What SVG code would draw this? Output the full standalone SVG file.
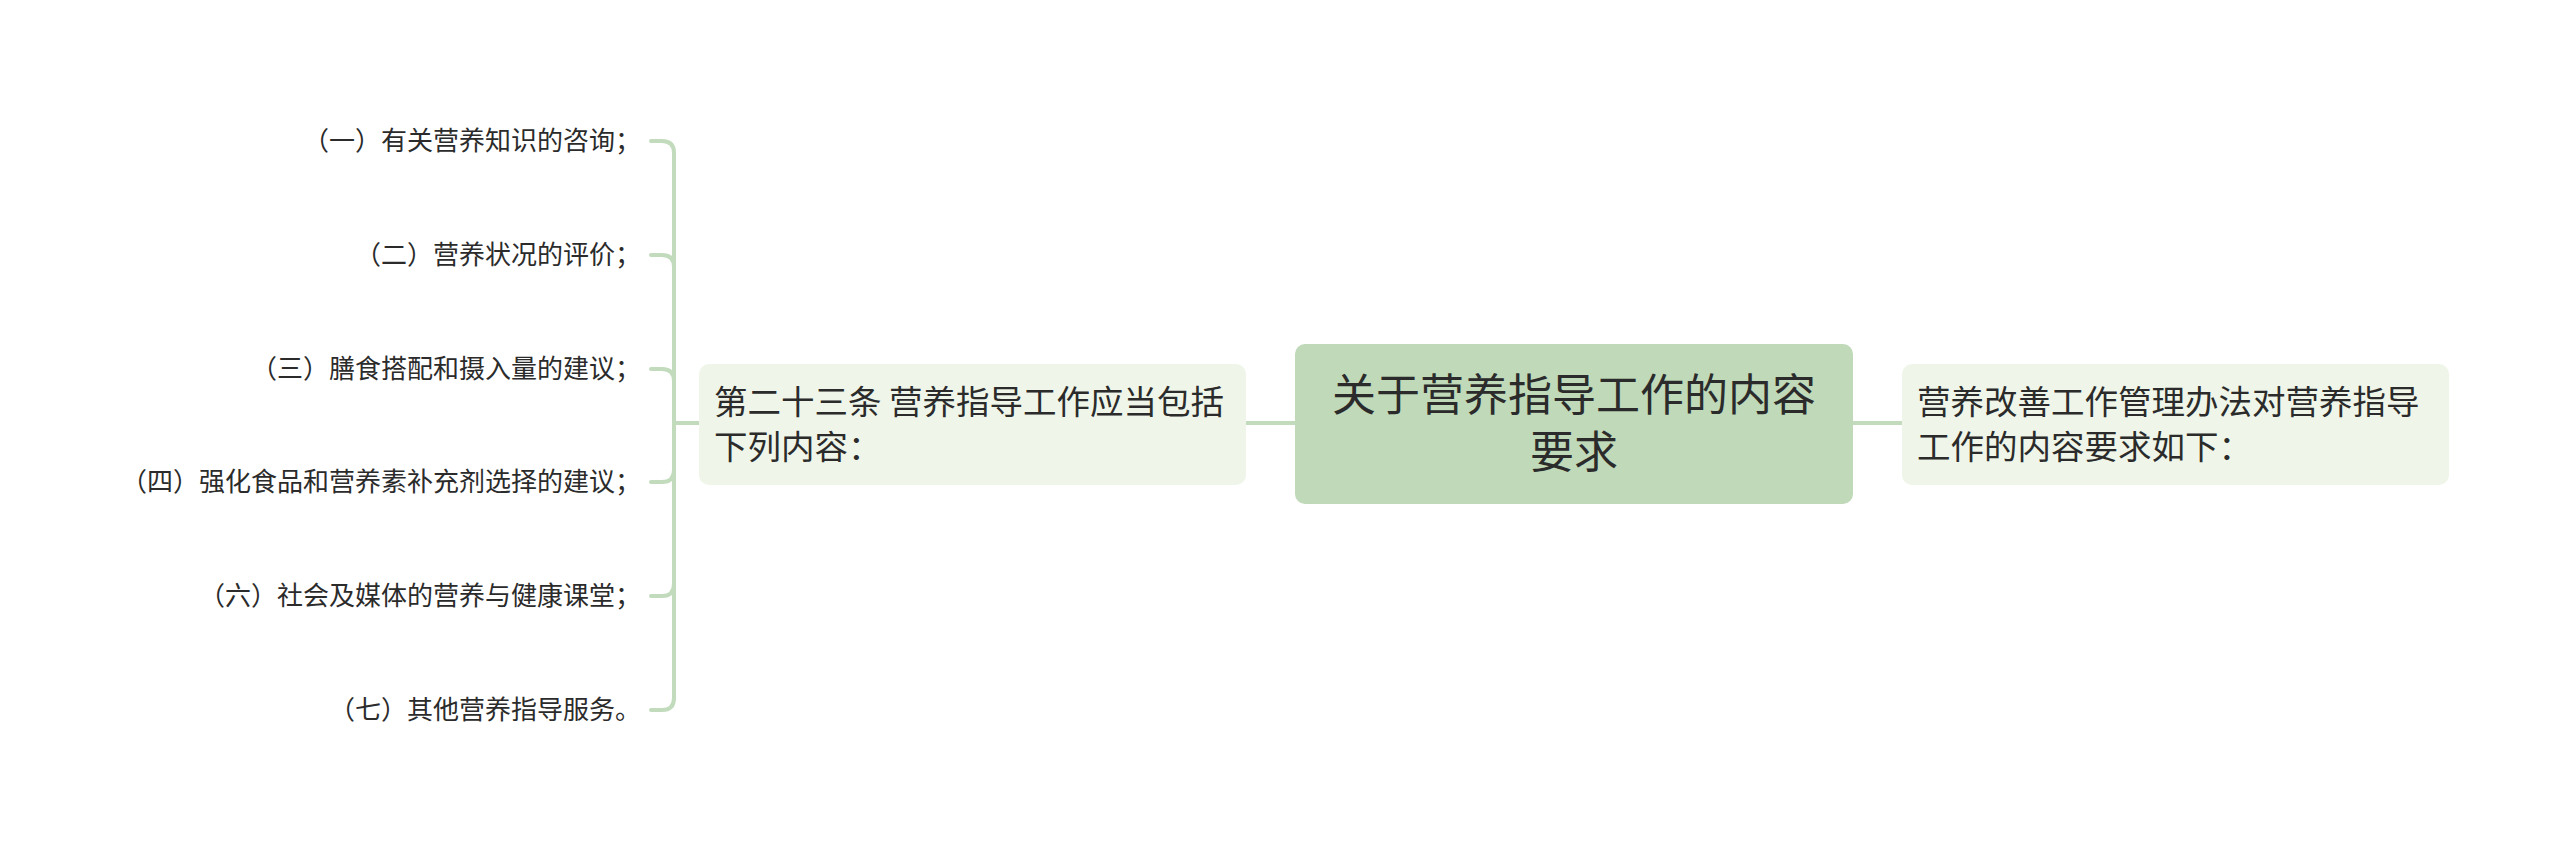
<svg xmlns="http://www.w3.org/2000/svg" width="2560" height="849" viewBox="0 0 2560 849">
<style>
.t{font-family:"Noto Sans CJK SC","Noto Sans",sans-serif;fill:#2b2b2b}
.c{fill:none;stroke:#c2dbbd;stroke-width:4;stroke-linecap:round}
.sub{fill:#eff6e9}
.leaf{font-size:26px;text-anchor:end}
.mid{font-size:33.5px}
</style>
<rect width="2560" height="849" fill="#ffffff"/>
<g id="connectors">
<path class="c" d="M1246 423 L1295 423"/>
<path class="c" d="M1853 423 L1902 423"/>
<path class="c" d="M699 423 L674 423"/>
<path class="c" d="M674 423 L674 153 Q674 141 662 141 L651 141"/>
<path class="c" d="M674 423 L674 267 Q674 255 662 255 L651 255"/>
<path class="c" d="M674 423 L674 381 Q674 369 662 369 L651 369"/>
<path class="c" d="M674 423 L674 470 Q674 482 662 482 L651 482"/>
<path class="c" d="M674 423 L674 584 Q674 596 662 596 L651 596"/>
<path class="c" d="M674 423 L674 698 Q674 710 662 710 L651 710"/>
</g>
<g id="central">
<rect x="1295" y="344" width="558" height="160" rx="10" fill="#bfd9b9"/>
<text class="t" x="1574" y="411" font-size="44" text-anchor="middle">关于营养指导工作的内容</text>
<text class="t" x="1574" y="468" font-size="44" text-anchor="middle">要求</text>
</g>
<g id="left">
<rect class="sub" x="699" y="364" width="547" height="121" rx="10"/>
<text class="t mid" x="714" y="414">第二十三条 营养指导工作应当包括</text>
<text class="t mid" x="714" y="459">下列内容：</text>
</g>
<g id="right">
<rect class="sub" x="1902" y="364" width="547" height="121" rx="10"/>
<text class="t mid" x="1917" y="414">营养改善工作管理办法对营养指导</text>
<text class="t mid" x="1917" y="459">工作的内容要求如下：</text>
</g>
<g id="leaf1"><text class="t leaf" x="641" y="150">（一）有关营养知识的咨询；</text></g>
<g id="leaf2"><text class="t leaf" x="641" y="264">（二）营养状况的评价；</text></g>
<g id="leaf3"><text class="t leaf" x="641" y="378">（三）膳食搭配和摄入量的建议；</text></g>
<g id="leaf4"><text class="t leaf" x="641" y="491">（四）强化食品和营养素补充剂选择的建议；</text></g>
<g id="leaf5"><text class="t leaf" x="641" y="605">（六）社会及媒体的营养与健康课堂；</text></g>
<g id="leaf6"><text class="t leaf" x="641" y="719">（七）其他营养指导服务。</text></g>
</svg>
